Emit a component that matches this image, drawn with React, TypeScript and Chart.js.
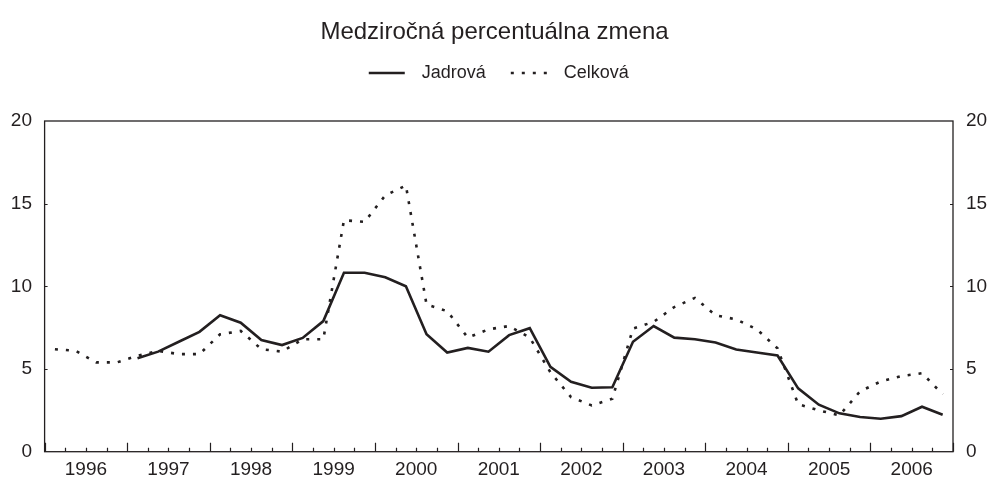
import React, { useEffect, useRef } from "react";
import { Chart, registerables } from "chart.js";

Chart.register(...registerables);

const FONT = "'Liberation Sans', Arial, Helvetica, sans-serif";
const INK = "#231f20";

const titleText = "Medziročná percentuálna zmena";
const seriesNames = ["Jadrová", "Celková"];

const years = ["1996", "1997", "1998", "1999", "2000", "2001", "2002", "2003", "2004", "2005", "2006"];

const quarterLabels = [
  "1996Q1", "1996Q2", "1996Q3", "1996Q4",
  "1997Q1", "1997Q2", "1997Q3", "1997Q4",
  "1998Q1", "1998Q2", "1998Q3", "1998Q4",
  "1999Q1", "1999Q2", "1999Q3", "1999Q4",
  "2000Q1", "2000Q2", "2000Q3", "2000Q4",
  "2001Q1", "2001Q2", "2001Q3", "2001Q4",
  "2002Q1", "2002Q2", "2002Q3", "2002Q4",
  "2003Q1", "2003Q2", "2003Q3", "2003Q4",
  "2004Q1", "2004Q2", "2004Q3", "2004Q4",
  "2005Q1", "2005Q2", "2005Q3", "2005Q4",
  "2006Q1", "2006Q2", "2006Q3", "2006Q4",
];

const jadrova: (number | null)[] = [
  null, null, null, null,
  5.65, 6.05, 6.65, 7.25,
  8.25, 7.8, 6.75, 6.45,
  6.88, 7.9, 10.82, 10.82,
  10.55, 10.0, 7.1, 6.0,
  6.28, 6.05, 7.05, 7.47,
  5.13, 4.23, 3.87, 3.9,
  6.65, 7.6, 6.9, 6.8,
  6.6, 6.18, 6.0, 5.82,
  3.83, 2.84, 2.32, 2.1,
  1.99, 2.15, 2.72, 2.23,
];

const celkova: number[] = [
  6.2, 6.1, 5.4, 5.4,
  5.8, 6.1, 5.9, 5.9,
  7.1, 7.3, 6.2, 6.05,
  6.8, 6.8, 14.0, 13.9,
  15.5, 16.1, 8.9, 8.5,
  6.9, 7.4, 7.6, 6.9,
  4.8, 3.3, 2.8, 3.2,
  7.45, 7.85, 8.75, 9.3,
  8.25, 8.0, 7.4, 6.25,
  2.87, 2.5, 2.2, 3.65,
  4.25, 4.57, 4.75, 3.47,
];

const yTicks = [0, 5, 10, 15, 20];

const DOT_DASH = [3, 8];

const framePlugin = {
  id: "frameTicks",
  afterDatasetsDraw(chart: any) {
    const { ctx, chartArea: a, scales } = chart;
    const xs = scales.x;
    const ys = scales.y;
    ctx.save();
    ctx.setLineDash([]);
    ctx.strokeStyle = INK;
    ctx.lineWidth = 1.3;
    ctx.strokeRect(a.left, a.top, a.right - a.left, a.bottom - a.top);
    ctx.lineWidth = 1.2;
    ctx.beginPath();
    for (let i = 0; i <= quarterLabels.length; i++) {
      const px = Math.round(xs.getPixelForValue(i)) + 0.5;
      const len = i % 4 === 0 ? 9 : 4;
      ctx.moveTo(px, a.bottom);
      ctx.lineTo(px, a.bottom - len);
    }
    for (const v of yTicks) {
      if (v === yTicks[0] || v === yTicks[yTicks.length - 1]) continue;
      const py = Math.round(ys.getPixelForValue(v)) + 0.5;
      ctx.moveTo(a.left, py);
      ctx.lineTo(a.left + 3, py);
      ctx.moveTo(a.right, py);
      ctx.lineTo(a.right - 3, py);
    }
    ctx.stroke();
    ctx.restore();
  },
  afterDraw(chart: any) {
    const { ctx, chartArea: a } = chart;
    const ds = chart.data.datasets;
    ctx.save();
    ctx.font = `18px ${FONT}`;
    ctx.textBaseline = "middle";
    ctx.textAlign = "left";
    const sampleW = 36;
    const gapText = 17;
    const gapItem = 25;
    const w0 = ctx.measureText(ds[0].label).width;
    const w1 = ctx.measureText(ds[1].label).width;
    const total = sampleW + gapText + w0 + gapItem + sampleW + gapText + w1;
    const cx = (a.left + a.right) / 2;
    let x = cx - total / 2;
    const y = 73;
    for (let i = 0; i < 2; i++) {
      const d = ds[i];
      ctx.strokeStyle = d.borderColor;
      ctx.lineWidth = d.borderWidth;
      ctx.setLineDash(d.borderDash || []);
      ctx.lineCap = "butt";
      ctx.beginPath();
      ctx.moveTo(x, y);
      ctx.lineTo(x + sampleW, y);
      ctx.stroke();
      x += sampleW + gapText;
      ctx.fillStyle = INK;
      ctx.fillText(d.label, x, y);
      x += (i === 0 ? w0 : w1) + gapItem;
    }
    ctx.restore();
  },
};

export default function App() {
  const canvasRef = useRef<HTMLCanvasElement | null>(null);

  useEffect(() => {
    const canvas = canvasRef.current;
    if (!canvas) return;
    const chart = new Chart(canvas, {
      type: "line",
      data: {
        datasets: [
          {
            label: seriesNames[0],
            data: jadrova.map((v, i) => ({ x: i + 0.5, y: v })),
            borderColor: INK,
            backgroundColor: INK,
            borderWidth: 2.6,
            pointRadius: 0,
            tension: 0,
            spanGaps: false,
          },
          {
            label: seriesNames[1],
            data: celkova.map((v, i) => ({ x: i + 0.5, y: v })),
            borderColor: INK,
            backgroundColor: INK,
            borderWidth: 2.6,
            borderDash: DOT_DASH,
            borderCapStyle: "butt",
            pointRadius: 0,
            tension: 0,
          },
        ],
      } as any,
      options: {
        animation: false,
        responsive: true,
        maintainAspectRatio: false,
        layout: { padding: { left: 0, right: 0, top: 0, bottom: 0 } },
        plugins: {
          legend: { display: false },
          tooltip: { enabled: false },
          title: {
            display: true,
            text: titleText,
            color: INK,
            font: { family: FONT, size: 24, weight: "normal" },
            padding: { top: 18, bottom: 74.2 },
          },
        },
        scales: {
          x: {
            type: "linear",
            min: 0,
            max: quarterLabels.length,
            grid: { display: false, drawTicks: false },
            border: { display: false },
            afterBuildTicks: (s: any) => {
              s.ticks = years.map((_, i) => ({ value: i * 4 + 2 }));
            },
            afterFit: (s: any) => {
              s.height = 26.3;
            },
            ticks: {
              autoSkip: false,
              maxRotation: 0,
              padding: 7,
              color: INK,
              font: { family: FONT, size: 19 },
              callback: (v: any) => years[Math.round((Number(v) - 2) / 4)] ?? "",
            },
          },
          y: {
            type: "linear",
            position: "left",
            min: 0,
            max: 20,
            grid: { display: false, drawTicks: false },
            border: { display: false },
            afterBuildTicks: (s: any) => {
              s.ticks = yTicks.map((v) => ({ value: v }));
            },
            afterFit: (s: any) => {
              s.width = 44.6;
            },
            ticks: {
              padding: 12.6,
              color: INK,
              font: { family: FONT, size: 19 },
            },
          },
          y2: {
            type: "linear",
            position: "right",
            min: 0,
            max: 20,
            grid: { display: false, drawTicks: false },
            border: { display: false },
            afterBuildTicks: (s: any) => {
              s.ticks = yTicks.map((v) => ({ value: v }));
            },
            afterFit: (s: any) => {
              s.width = 36;
            },
            ticks: {
              padding: 13,
              color: INK,
              font: { family: FONT, size: 19 },
            },
          },
        },
      } as any,
      plugins: [framePlugin],
    });
    return () => chart.destroy();
  }, []);

  return (
    <div style={{ position: "absolute", left: 0, top: 0, width: 989, height: 478, background: "#fff" }}>
      <canvas ref={canvasRef} />
    </div>
  );
}
